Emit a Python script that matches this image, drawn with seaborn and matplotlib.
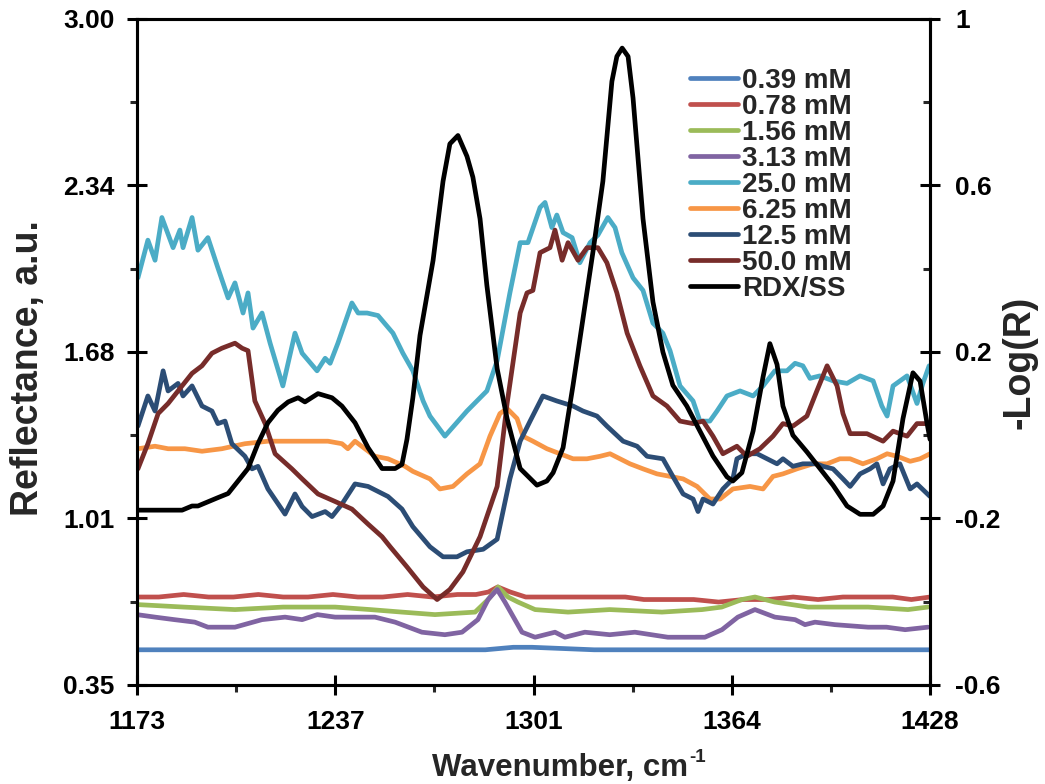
import numpy as np
import pandas as pd
import matplotlib
matplotlib.use("Agg")
import matplotlib.pyplot as plt
from matplotlib.lines import Line2D
import seaborn as sns

# ---------------- data ----------------
x_cyan = [1173.3, 1176.5, 1178.8, 1181.0, 1184.6, 1186.8, 1187.8, 1190.7, 1192.6, 1195.8, 1199.0, 1202.3,
          1204.5, 1207.1, 1208.7, 1210.3, 1213.2, 1215.8, 1219.9, 1223.8, 1226.1, 1230.9, 1233.5, 1235.1,
          1237.6, 1242.1, 1244.1, 1247.0, 1250.5, 1255.3, 1258.5, 1261.7, 1265.0, 1267.2, 1272.0, 1279.1,
          1285.5, 1288.8, 1292.9, 1296.2, 1298.7, 1302.6, 1304.2, 1306.4, 1308.0, 1310.0, 1312.9, 1315.4,
          1318.7, 1321.2, 1324.4, 1326.7, 1328.9, 1332.5, 1335.7, 1338.9, 1342.1, 1344.4, 1347.6, 1351.8,
          1354.0, 1357.2, 1359.5, 1362.7, 1366.9, 1371.1, 1374.3, 1378.1, 1382.0, 1384.6, 1387.1, 1389.4,
          1392.6, 1396.8, 1401.3, 1405.5, 1409.7, 1412.5, 1414.2, 1416.1, 1420.6, 1423.8, 1425.7, 1427.7]
y_cyan = [1.97, 2.12, 2.04, 2.21, 2.09, 2.16, 2.09, 2.21, 2.08, 2.13, 2.01, 1.89,
          1.95, 1.83, 1.91, 1.77, 1.83, 1.71, 1.54, 1.75, 1.67, 1.60, 1.65, 1.63,
          1.71, 1.87, 1.83, 1.83, 1.82, 1.75, 1.67, 1.60, 1.48, 1.42, 1.34, 1.44,
          1.52, 1.64, 1.91, 2.11, 2.11, 2.25, 2.27, 2.17, 2.22, 2.15, 2.13, 2.03,
          2.11, 2.14, 2.21, 2.17, 2.07, 1.97, 1.92, 1.79, 1.75, 1.68, 1.54, 1.48,
          1.40, 1.40, 1.44, 1.50, 1.52, 1.50, 1.54, 1.60, 1.60, 1.63, 1.62, 1.57,
          1.58, 1.56, 1.55, 1.58, 1.56, 1.46, 1.42, 1.54, 1.58, 1.47, 1.55, 1.62]

x_dred = [1173.3, 1176.5, 1179.8, 1183.0, 1186.2, 1190.7, 1193.9, 1197.1, 1200.3, 1204.5, 1206.8, 1208.7,
          1210.9, 1214.2, 1217.4, 1222.8, 1226.1, 1231.2, 1236.7, 1242.1, 1247.3, 1251.8, 1254.4, 1259.8,
          1265.0, 1269.5, 1273.6, 1277.8, 1283.3, 1288.8, 1292.0, 1296.2, 1298.4, 1300.3, 1302.6, 1305.8,
          1307.4, 1309.7, 1311.6, 1314.8, 1317.7, 1321.2, 1324.1, 1327.3, 1330.6, 1334.7, 1338.9, 1343.4,
          1347.6, 1351.8, 1355.0, 1358.2, 1361.4, 1365.9, 1369.1, 1373.3, 1377.5, 1380.7, 1383.9, 1388.4,
          1391.6, 1394.9, 1398.1, 1400.0, 1402.3, 1407.7, 1412.9, 1416.1, 1420.6, 1423.8, 1427.7]
y_dred = [1.21, 1.31, 1.43, 1.47, 1.52, 1.59, 1.62, 1.67, 1.69, 1.71, 1.69, 1.68,
          1.48, 1.39, 1.27, 1.21, 1.17, 1.11, 1.08, 1.05, 0.99, 0.94, 0.90, 0.82,
          0.74, 0.69, 0.73, 0.80, 0.94, 1.14, 1.47, 1.83, 1.91, 1.92, 2.07, 2.09,
          2.16, 2.04, 2.11, 2.04, 2.09, 2.09, 2.03, 1.91, 1.75, 1.62, 1.50, 1.46,
          1.40, 1.39, 1.40, 1.34, 1.27, 1.30, 1.26, 1.29, 1.34, 1.39, 1.38, 1.42,
          1.52, 1.62, 1.54, 1.43, 1.35, 1.35, 1.32, 1.36, 1.34, 1.39, 1.39]

x_navy = [1173.3, 1176.5, 1178.8, 1181.4, 1183.0, 1186.2, 1187.8, 1190.7, 1193.9, 1197.1, 1199.0, 1201.3,
          1203.5, 1207.7, 1210.0, 1211.9, 1215.1, 1220.6, 1223.8, 1226.1, 1229.3, 1233.5, 1235.7, 1238.9,
          1243.1, 1247.3, 1253.7, 1258.2, 1261.7, 1267.2, 1271.4, 1275.9, 1279.1, 1284.3, 1288.8, 1292.9,
          1296.2, 1299.4, 1303.5, 1308.0, 1313.2, 1316.4, 1320.9, 1324.1, 1329.3, 1333.8, 1337.0, 1342.1,
          1345.3, 1348.6, 1351.8, 1353.4, 1355.0, 1358.2, 1361.4, 1364.6, 1365.9, 1369.1, 1372.4, 1375.6,
          1378.8, 1380.7, 1383.9, 1387.1, 1391.6, 1393.6, 1396.8, 1400.0, 1402.3, 1405.5, 1408.7, 1410.9,
          1412.9, 1415.1, 1418.3, 1421.6, 1423.8, 1428.0]
y_navy = [1.38, 1.50, 1.44, 1.60, 1.52, 1.55, 1.50, 1.54, 1.46, 1.44, 1.39, 1.40,
          1.31, 1.26, 1.21, 1.22, 1.13, 1.03, 1.11, 1.06, 1.02, 1.04, 1.02, 1.07,
          1.15, 1.14, 1.10, 1.05, 0.98, 0.90, 0.86, 0.86, 0.88, 0.89, 0.93, 1.17,
          1.32, 1.40, 1.50, 1.48, 1.46, 1.44, 1.42, 1.38, 1.32, 1.30, 1.26, 1.25,
          1.18, 1.11, 1.09, 1.04, 1.09, 1.07, 1.13, 1.17, 1.25, 1.27, 1.27, 1.25,
          1.23, 1.25, 1.22, 1.23, 1.23, 1.22, 1.21, 1.17, 1.14, 1.19, 1.21, 1.23,
          1.15, 1.21, 1.23, 1.13, 1.15, 1.10]

x_orange = [1173.3, 1178.8, 1183.0, 1188.4, 1193.9, 1200.3, 1207.7, 1215.1, 1221.6, 1228.0, 1234.4, 1238.9,
            1240.8, 1243.1, 1246.3, 1249.5, 1253.7, 1259.2, 1261.7, 1267.2, 1270.4, 1274.6, 1279.1, 1283.3,
            1286.5, 1289.7, 1292.0, 1295.2, 1297.1, 1300.3, 1304.8, 1309.0, 1313.2, 1317.7, 1321.9, 1325.1,
            1331.5, 1335.7, 1340.2, 1344.4, 1348.6, 1353.1, 1357.2, 1360.5, 1364.6, 1370.1, 1374.3, 1377.5,
            1380.7, 1385.2, 1390.4, 1394.9, 1399.0, 1402.3, 1406.4, 1410.9, 1414.2, 1417.4, 1421.6, 1424.8,
            1428.0]
y_orange = [1.29, 1.30, 1.29, 1.29, 1.28, 1.29, 1.31, 1.32, 1.32, 1.32, 1.32, 1.31,
            1.29, 1.32, 1.29, 1.26, 1.25, 1.22, 1.20, 1.17, 1.13, 1.14, 1.19, 1.23,
            1.34, 1.43, 1.45, 1.41, 1.34, 1.32, 1.29, 1.27, 1.25, 1.25, 1.26, 1.27,
            1.23, 1.21, 1.19, 1.18, 1.17, 1.14, 1.09, 1.09, 1.13, 1.14, 1.13, 1.18,
            1.19, 1.21, 1.23, 1.23, 1.25, 1.25, 1.23, 1.25, 1.27, 1.26, 1.24, 1.25,
            1.27]

x_red = [1173, 1180, 1188, 1196, 1204, 1212, 1220, 1228, 1236, 1244, 1252, 1260, 1268, 1276, 1282,
         1286, 1289, 1293, 1298, 1306, 1314, 1322, 1330, 1336, 1344, 1352, 1360, 1368, 1376, 1384,
         1392, 1400, 1408, 1416, 1422, 1428]
y_red = [0.70, 0.70, 0.71, 0.70, 0.70, 0.71, 0.70, 0.70, 0.71, 0.70, 0.70, 0.71, 0.70, 0.71, 0.71,
         0.72, 0.74, 0.72, 0.70, 0.70, 0.70, 0.70, 0.70, 0.69, 0.69, 0.69, 0.68, 0.69, 0.69, 0.70,
         0.69, 0.70, 0.70, 0.70, 0.69, 0.70]

x_green = [1173.0, 1188.0, 1204.5, 1220.0, 1236.7, 1248.0, 1258.2, 1268.8, 1281.7, 1285.9, 1289.1, 1292.3,
           1295.5, 1301.0, 1311.6, 1325.0, 1341.8, 1354.7, 1361.0, 1367.5, 1371.7, 1378.1, 1388.8, 1398.0,
           1408.1, 1420.9, 1427.3]
y_green = [0.67, 0.66, 0.65, 0.66, 0.66, 0.65, 0.64, 0.63, 0.64, 0.69, 0.74, 0.70,
           0.68, 0.65, 0.64, 0.65, 0.64, 0.65, 0.66, 0.69, 0.70, 0.68, 0.66, 0.66,
           0.66, 0.65, 0.66]

x_purple = [1173.0, 1178.8, 1185.0, 1191.6, 1195.8, 1204.5, 1213.2, 1220.6, 1226.1, 1231.0, 1236.7, 1242.1,
            1249.5, 1256.0, 1264.6, 1272.0, 1277.5, 1282.6, 1285.9, 1288.8, 1291.3, 1296.8, 1301.0, 1307.4,
            1310.6, 1317.0, 1325.0, 1333.1, 1343.7, 1355.6, 1361.1, 1366.2, 1371.7, 1378.1, 1384.6, 1387.8,
            1391.0, 1397.4, 1408.1, 1414.0, 1420.0, 1427.3]
y_purple = [0.63, 0.62, 0.61, 0.60, 0.58, 0.58, 0.61, 0.62, 0.61, 0.63, 0.62, 0.62,
            0.62, 0.60, 0.56, 0.55, 0.56, 0.61, 0.69, 0.73, 0.68, 0.56, 0.54, 0.56,
            0.54, 0.56, 0.55, 0.56, 0.54, 0.54, 0.57, 0.62, 0.65, 0.62, 0.61, 0.59,
            0.60, 0.59, 0.58, 0.58, 0.57, 0.58]

x_blue = [1173, 1190, 1210, 1230, 1250, 1270, 1285, 1294, 1300, 1320, 1340, 1360, 1380, 1400, 1415, 1428]
y_blue = [0.49, 0.49, 0.49, 0.49, 0.49, 0.49, 0.49, 0.50, 0.50, 0.49, 0.49, 0.49, 0.49, 0.49, 0.49, 0.49]

x_rdx = [1173.3, 1178.8, 1183.0, 1187.5, 1190.7, 1192.6, 1195.8, 1199.0, 1202.3, 1205.5, 1208.7, 1211.9,
         1215.1, 1218.3, 1221.6, 1224.8, 1227.0, 1231.2, 1235.7, 1238.9, 1243.1, 1247.3, 1251.8, 1256.0,
         1258.2, 1259.8, 1261.7, 1264.0, 1268.2, 1271.4, 1273.6, 1276.2, 1279.1, 1281.0, 1283.3, 1285.5,
         1288.8, 1292.0, 1296.2, 1301.6, 1304.8, 1306.8, 1310.0, 1313.2, 1316.4, 1319.6, 1322.8, 1325.7,
         1327.3, 1329.0, 1330.9, 1332.5, 1335.7, 1338.9, 1342.1, 1345.3, 1349.8, 1354.0, 1358.2, 1362.7,
         1364.6, 1367.5, 1371.1, 1374.3, 1376.5, 1378.8, 1380.7, 1383.9, 1388.4, 1392.6, 1396.8, 1401.3,
         1405.5, 1409.7, 1412.9, 1416.1, 1419.3, 1422.5, 1424.8, 1427.0, 1428.0]
y_rdx = [-0.18, -0.18, -0.18, -0.18, -0.17, -0.17, -0.16, -0.15, -0.14, -0.11, -0.08, -0.02,
         0.03, 0.06, 0.08, 0.09, 0.08, 0.10, 0.09, 0.07, 0.03, -0.03, -0.08, -0.08,
         -0.07, -0.01, 0.09, 0.24, 0.42, 0.61, 0.70, 0.72, 0.67, 0.62, 0.52, 0.36,
         0.16, 0.04, -0.08, -0.12, -0.11, -0.09, -0.03, 0.12, 0.28, 0.44, 0.61, 0.85,
         0.91, 0.93, 0.91, 0.81, 0.52, 0.32, 0.20, 0.12, 0.07, 0.01, -0.05, -0.10,
         -0.11, -0.09, 0.01, 0.14, 0.22, 0.17, 0.07, 0.00, -0.04, -0.08, -0.12, -0.17,
         -0.19, -0.19, -0.17, -0.11, 0.04, 0.15, 0.13, 0.03, -0.01]

series_labels = ["0.39 mM", "0.78 mM", "1.56 mM", "3.13 mM", "25.0 mM", "6.25 mM", "12.5 mM", "50.0 mM"]
rdx_label = "RDX/SS"

x_ticks_labels = ["1173", "1237", "1301", "1364", "1428"]
yl_ticks_labels = ["0.35", "1.01", "1.68", "2.34", "3.00"]
yr_ticks_labels = ["-0.6", "-0.2", "0.2", "0.6", "1"]

# ---------------- figure ----------------
sns.set_theme(style="white")
plt.rcParams["font.family"] = ["Liberation Sans", "DejaVu Sans"]
plt.rcParams["font.weight"] = "bold"

colors = ["#4F81BD", "#C0504D", "#9BBB59", "#8064A2", "#4BACC6", "#F79646", "#2C4D75", "#772C2A"]
xs = [x_blue, x_red, x_green, x_purple, x_cyan, x_orange, x_navy, x_dred]
ys = [y_blue, y_red, y_green, y_purple, y_cyan, y_orange, y_navy, y_dred]

frames = []
for lab, xx, yy in zip(series_labels, xs, ys):
    frames.append(pd.DataFrame({"x": xx, "y": yy, "series": lab}))
df = pd.concat(frames, ignore_index=True)
df_rdx = pd.DataFrame({"x": x_rdx, "y": y_rdx})

fig = plt.figure(figsize=(10.45, 7.84), dpi=100)
ax = fig.add_axes([0.1311, 0.1263, 0.7589, 0.8495])
lw = 3.4
sns.lineplot(data=df, x="x", y="y", hue="series", hue_order=series_labels,
             palette=dict(zip(series_labels, colors)), linewidth=lw, estimator=None,
             sort=False, legend=False, ax=ax)
ax2 = ax.twinx()
sns.lineplot(data=df_rdx, x="x", y="y", color="black", linewidth=lw, estimator=None,
             sort=False, legend=False, ax=ax2)
for a in (ax, ax2):
    for ln in a.get_lines():
        ln.set_solid_joinstyle("round")
        ln.set_solid_capstyle("round")

xmin, xmax = 1173, 1428
ax.set_xlim(xmin, xmax)
ax.set_ylim(0.35, 3.00)
ax2.set_ylim(-0.6, 1.0)

xt = np.linspace(xmin, xmax, 5)
ax.set_xticks(xt)
ax.set_xticklabels(x_ticks_labels)
ax.set_xticks((xt[:-1] + xt[1:]) / 2, minor=True)
ylt = np.linspace(0.35, 3.00, 5)
ax.set_yticks(ylt)
ax.set_yticklabels(yl_ticks_labels)
ax.set_yticks((ylt[:-1] + ylt[1:]) / 2, minor=True)
yrt = np.linspace(-0.6, 1.0, 5)
ax2.set_yticks(yrt)
ax2.set_yticklabels(yr_ticks_labels)
ax2.set_yticks((yrt[:-1] + yrt[1:]) / 2, minor=True)

for a in (ax, ax2):
    for s in a.spines.values():
        s.set_linewidth(2.2)
        s.set_color("black")
    a.set_xlabel("")
    a.set_ylabel("")
ax.tick_params(axis="both", which="major", direction="inout", length=14, width=2.2,
               labelsize=19, colors="black")
ax.tick_params(axis="y", which="major", pad=9)
ax.tick_params(axis="x", which="major", pad=11)
ax.tick_params(axis="both", which="minor", direction="out", length=5, width=2.2)
ax.tick_params(axis="y", left=True, right=False)
ax.tick_params(axis="x", bottom=True, which="both")
ax2.tick_params(axis="y", which="major", direction="inout", length=14, width=2.2,
                labelsize=19, colors="black", pad=11, right=True)
ax2.tick_params(axis="y", which="minor", direction="in", length=5, width=2.2, right=True)
for lab in ax.get_xticklabels() + ax.get_yticklabels() + ax2.get_yticklabels():
    lab.set_fontweight("bold")

# x label with a small hyphen superscript
xl = fig.text(0.536, 0.010, "Wavenumber, cm", ha="center", va="baseline",
              fontsize=22.5, fontweight="bold")
fig.canvas.draw()
bb = xl.get_window_extent()
fig.text(bb.x1 / fig.bbox.width + 0.001, 0.010 + 14 / 784, "-1", ha="left", va="baseline",
         fontsize=13.5, fontweight="bold")

fig.text(0.027, 0.531, "Reflectance, a.u.", rotation=90, ha="center", va="center",
         fontsize=27, fontweight="bold")
fig.text(0.976, 0.538, "-Log(R)", rotation=90, ha="center", va="center",
         fontsize=27, fontweight="bold")

handles = [Line2D([0], [0], color=c, linewidth=lw) for c in colors]
handles.append(Line2D([0], [0], color="black", linewidth=lw))
labels = series_labels + [rdx_label]
leg = ax2.legend(handles, labels, loc="upper left", bbox_to_anchor=(0.6605, 0.913),
                 bbox_transform=fig.transFigure, frameon=False, fontsize=20,
                 handlelength=1.72, handletextpad=0.15, labelspacing=0.0, borderpad=0,
                 borderaxespad=0)
for t in leg.get_texts():
    t.set_fontweight("bold")

fig.savefig("out.png", dpi=100, facecolor="white")
